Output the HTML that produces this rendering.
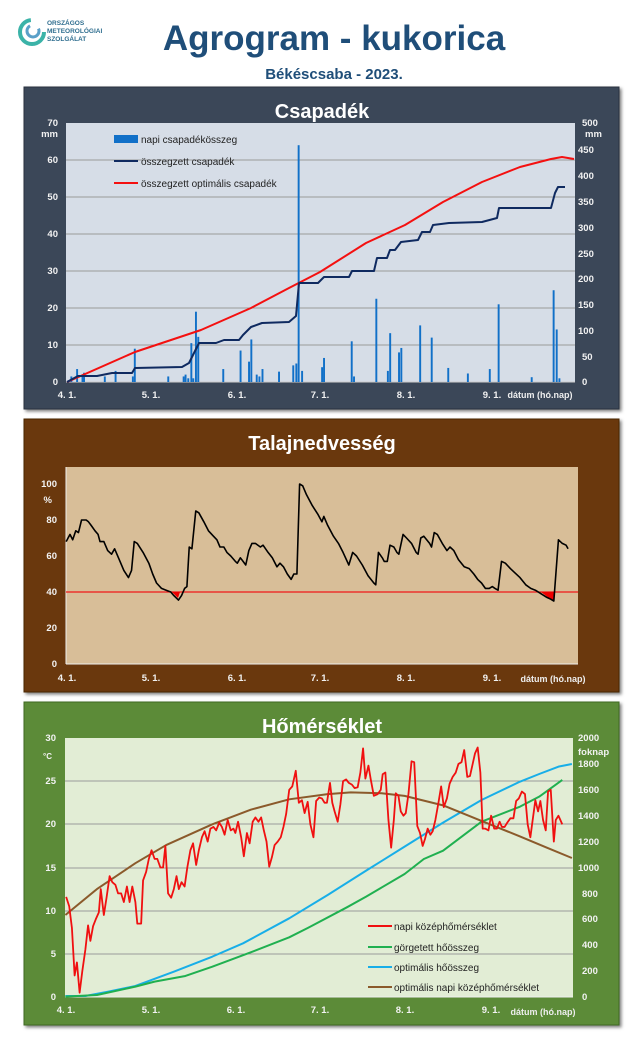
<!DOCTYPE html>
<html><head><meta charset="utf-8">
<style>
html,body{margin:0;padding:0;background:#fff;}
svg{display:block;font-family:"Liberation Sans",sans-serif;}
.ax{fill:#f2f2f2;font-size:9.5px;font-weight:bold;}
.g{stroke:#9a9a9a;stroke-width:1;}
.ln{fill:none;vector-effect:non-scaling-stroke;stroke-linejoin:round;}
</style></head><body>
<svg width="640" height="1048" viewBox="0 0 640 1048" xmlns="http://www.w3.org/2000/svg">
<defs>
<filter id="sh" x="-5%" y="-5%" width="110%" height="110%"><feDropShadow dx="2" dy="2" stdDeviation="1.5" flood-color="#000" flood-opacity="0.5"/></filter>
</defs>
<!-- header -->
<g>
<circle cx="32" cy="32" r="12" fill="none" stroke="#3bb3a8" stroke-width="4" stroke-dasharray="55 20"/>
<circle cx="33" cy="31" r="6" fill="none" stroke="#5aa0c8" stroke-width="3" stroke-dasharray="25 10"/>
<text x="47" y="25" font-size="6.5" fill="#2f6e8f" font-weight="bold">ORSZÁGOS</text>
<text x="47" y="33" font-size="6.5" fill="#2f6e8f" font-weight="bold">METEOROLÓGIAI</text>
<text x="47" y="41" font-size="6.5" fill="#2f6e8f" font-weight="bold">SZOLGÁLAT</text>
<text x="334" y="50" text-anchor="middle" font-size="35" font-weight="bold" fill="#1f4e79">Agrogram - kukorica</text>
<text x="334" y="79" text-anchor="middle" font-size="15" font-weight="bold" fill="#1f4e79">Békéscsaba - 2023.</text>
</g>

<!-- PANEL 1 -->
<rect x="24" y="87" width="595" height="322" fill="#3b4659" stroke="#2a3240" filter="url(#sh)"/>
<text x="322" y="118" text-anchor="middle" font-size="20" font-weight="bold" fill="#fff">Csapadék</text>
<rect x="66" y="123" width="509" height="259" fill="#d6dde7"/>
<g class="g">
<line x1="66" y1="160" x2="575" y2="160"/><line x1="66" y1="197" x2="575" y2="197"/><line x1="66" y1="234" x2="575" y2="234"/><line x1="66" y1="271" x2="575" y2="271"/><line x1="66" y1="308" x2="575" y2="308"/><line x1="66" y1="345" x2="575" y2="345"/>
</g>
<line x1="66" y1="382" x2="575" y2="382" stroke="#ccc"/>
<g class="ax" text-anchor="end">
<text x="58" y="126">70</text><text x="58" y="137">mm</text><text x="58" y="163">60</text><text x="58" y="200">50</text><text x="58" y="237">40</text><text x="58" y="274">30</text><text x="58" y="311">20</text><text x="58" y="348">10</text><text x="58" y="385">0</text>
</g>
<g class="ax" text-anchor="start">
<text x="582" y="126">500</text><text x="585" y="137">mm</text><text x="578" y="153">450</text><text x="578" y="179">400</text><text x="578" y="205">350</text><text x="578" y="231">300</text><text x="578" y="257">250</text><text x="578" y="282">200</text><text x="578" y="308">150</text><text x="578" y="334">100</text><text x="582" y="360">50</text><text x="582" y="385">0</text>
</g>
<g class="ax" text-anchor="middle">
<text x="67" y="398">4. 1.</text><text x="151" y="398">5. 1.</text><text x="237" y="398">6. 1.</text><text x="320" y="398">7. 1.</text><text x="406" y="398">8. 1.</text><text x="492" y="398">9. 1.</text>
</g>
<text x="540" y="398" text-anchor="middle" font-size="9" font-weight="bold" fill="#eee">dátum (hó.nap)</text>
<g transform="translate(20,382) scale(0.3846,-3.7)" fill="#1170c8">
<rect x="131" y="0" width="5" height="1.5"/><rect x="146" y="0" width="5" height="3.5"/><rect x="160" y="0" width="5" height="2"/><rect x="164" y="0" width="5" height="2.5"/><rect x="218" y="0" width="5" height="1.5"/><rect x="246" y="0" width="5" height="3"/><rect x="296" y="0" width="5" height="9"/><rect x="291" y="0" width="5" height="1.5"/><rect x="383" y="0" width="5" height="1.5"/><rect x="423" y="0" width="5" height="1.5"/><rect x="428" y="0" width="5" height="2"/><rect x="435" y="0" width="5" height="1"/><rect x="443" y="0" width="5" height="10.5"/><rect x="448" y="0" width="5" height="1"/><rect x="455" y="0" width="5" height="19"/><rect x="461" y="0" width="5" height="12.2"/><rect x="526" y="0" width="5" height="3.5"/><rect x="571" y="0" width="5" height="8.5"/><rect x="593" y="0" width="5" height="5.5"/><rect x="599" y="0" width="5" height="11.5"/><rect x="613" y="0" width="5" height="2"/><rect x="620" y="0" width="5" height="1.5"/><rect x="628" y="0" width="5" height="3.5"/><rect x="671" y="0" width="5" height="2.8"/><rect x="708" y="0" width="5" height="4.5"/><rect x="716" y="0" width="5" height="5"/><rect x="722" y="0" width="5" height="64"/><rect x="731" y="0" width="5" height="3"/><rect x="783" y="0" width="5" height="4"/><rect x="788" y="0" width="5" height="6.5"/><rect x="860" y="0" width="5" height="11"/><rect x="866" y="0" width="5" height="1.5"/><rect x="924" y="0" width="5" height="22.5"/><rect x="954" y="0" width="5" height="3"/><rect x="960" y="0" width="5" height="13.2"/><rect x="983" y="0" width="5" height="8"/><rect x="989" y="0" width="5" height="9.2"/><rect x="1038" y="0" width="5" height="15.3"/><rect x="1068" y="0" width="5" height="12"/><rect x="1111" y="0" width="5" height="3.8"/><rect x="1162" y="0" width="5" height="2.3"/><rect x="1219" y="0" width="5" height="3.5"/><rect x="1242" y="0" width="5" height="21"/><rect x="1328" y="0" width="5" height="1.3"/><rect x="1385" y="0" width="5" height="24.8"/><rect x="1393" y="0" width="5" height="14.2"/><rect x="1400" y="0" width="5" height="1"/>
</g>
<polyline class="ln" stroke="#f41010" stroke-width="2" points="67,382 135,352 201,330 251,308 289,288 320,272 366,243 405,225 443,202 482,182 520,167 551,159 562,157 574,159"/>
<polyline class="ln" stroke="#0f2a60" stroke-width="2" points="67,382 78,376 97,376 112,373 132,373 135,368 182,367 189,363 199,343 216,343 224,340 239,340 243,335 251,327 262,323 289,322 296,316 299,283 318,283 324,277 349,277 352,271 374,271 377,258 387,258 390,250 395,250 401,242 418,240 422,232 430,232 433,225 449,223 482,222 497,218 499,208 551,208 555,193 558,187 565,187"/>
<rect x="114" y="135" width="24" height="8" fill="#1170c8"/>
<line x1="114" y1="161" x2="138" y2="161" stroke="#0f2a60" stroke-width="2"/>
<line x1="114" y1="183" x2="138" y2="183" stroke="#f41010" stroke-width="2"/>
<g font-size="10" fill="#222">
<text x="141" y="143">napi csapadékösszeg</text><text x="141" y="165">összegzett csapadék</text><text x="141" y="187">összegzett optimális  csapadék</text>
</g>

<!-- PANEL 2 -->
<rect x="24" y="419" width="595" height="273" fill="#6b3907" stroke="#4a2804" filter="url(#sh)"/>
<text x="322" y="450" text-anchor="middle" font-size="20" font-weight="bold" fill="#fff">Talajnedvesség</text>
<rect x="66" y="467" width="512" height="197" fill="#d8be98"/>
<line x1="66" y1="664" x2="578" y2="664" stroke="#eee"/>
<line x1="66" y1="467" x2="66" y2="664" stroke="#eee"/>
<g class="ax" text-anchor="end">
<text x="57" y="487">100</text><text x="52" y="503">%</text><text x="57" y="523">80</text><text x="57" y="559">60</text><text x="57" y="595">40</text><text x="57" y="631">20</text><text x="57" y="667">0</text>
</g>
<g class="ax" text-anchor="middle">
<text x="67" y="681">4. 1.</text><text x="151" y="681">5. 1.</text><text x="237" y="681">6. 1.</text><text x="320" y="681">7. 1.</text><text x="406" y="681">8. 1.</text><text x="492" y="681">9. 1.</text>
</g>
<text x="553" y="682" text-anchor="middle" font-size="9" font-weight="bold" fill="#eee">dátum (hó.nap)</text>
<line x1="66" y1="592" x2="578" y2="592" stroke="#f01818" stroke-width="1.3"/>
<polygon points="172,592 180,592 178,598" fill="#e00"/>
<polygon points="541,592 555,592 553,601" fill="#e00"/>
<g transform="translate(20,664) scale(0.3846,-1.8)">
<polyline class="ln" stroke="#000" stroke-width="1.6" points="120,68 130,72 137,69 145,74 152,73 160,80 172,80 178,79 185,77 195,74 203,72 208,68 218,68 228,63 238,61 246,64 258,58 270,52 282,48 290,52 297,68 305,67 320,62 335,56 345,50 355,45 368,42 380,41 392,40 400,38 412,35.5 420,38 428,42 434,43 440,65 447,64 457,85 465,84 478,79 490,74 503,71 512,69 520,65 530,65 538,62 548,60 560,57 565,56 573,59 580,57 587,55 595,63 603,67 612,67 625,65 632,66 645,62 656,59 668,54 676,56 685,54 695,50 705,47 712,50 720,50 727,100 735,99 745,94 760,88 775,83 785,79 790,82 800,77 815,71 828,67 840,62 855,55 865,62 875,60 890,55 905,49 920,45 925,44 932,62 942,59 947,57 955,57 962,66 972,65 980,62 985,61 996,72 1005,70 1018,67 1030,62 1035,61 1042,70 1050,71 1065,67 1070,65 1077,73 1085,72 1098,67 1110,63 1118,65 1128,63 1140,58 1155,54 1168,53 1180,50 1190,47 1200,45 1210,42 1220,42 1228,43 1235,42 1243,41 1252,57 1262,56 1275,53 1285,51 1300,48 1315,44 1328,42 1340,41 1355,39 1370,37 1380,36 1388,35 1400,69 1410,67 1420,66 1425,64"/>
</g>

<!-- PANEL 3 -->
<rect x="24" y="702" width="595" height="323" fill="#5b8b38" stroke="#3f6a24" filter="url(#sh)"/>
<text x="322" y="733" text-anchor="middle" font-size="20" font-weight="bold" fill="#fff">Hőmérséklet</text>
<rect x="65" y="738" width="508" height="259" fill="#e2edd5"/>
<g class="g">
<line x1="65" y1="781" x2="573" y2="781"/><line x1="65" y1="824" x2="573" y2="824"/><line x1="65" y1="868" x2="573" y2="868"/><line x1="65" y1="911" x2="573" y2="911"/><line x1="65" y1="954" x2="573" y2="954"/>
</g>
<line x1="65" y1="997" x2="573" y2="997" stroke="#eee"/>
<g class="ax" text-anchor="end">
<text x="56" y="741">30</text><text x="52" y="759" font-size="8">°C</text><text x="56" y="784">25</text><text x="56" y="827">20</text><text x="56" y="871">15</text><text x="56" y="914">10</text><text x="56" y="957">5</text><text x="56" y="1000">0</text>
</g>
<g class="ax" text-anchor="start">
<text x="578" y="741">2000</text><text x="578" y="755">foknap</text><text x="578" y="767">1800</text><text x="578" y="793">1600</text><text x="578" y="819">1400</text><text x="578" y="845">1200</text><text x="578" y="871">1000</text><text x="582" y="897">800</text><text x="582" y="922">600</text><text x="582" y="948">400</text><text x="582" y="974">200</text><text x="582" y="1000">0</text>
</g>
<g class="ax" text-anchor="middle">
<text x="66" y="1013">4. 1.</text><text x="151" y="1013">5. 1.</text><text x="236" y="1013">6. 1.</text><text x="320" y="1013">7. 1.</text><text x="405" y="1013">8. 1.</text><text x="491" y="1013">9. 1.</text>
</g>
<text x="543" y="1015" text-anchor="middle" font-size="9" font-weight="bold" fill="#eee">dátum (hó.nap)</text>
<g transform="translate(20,700) scale(0.3846,0.3333)">
<polyline class="ln" stroke="#18aee8" stroke-width="2" points="118,888 170,888 230,875 300,858 400,815 500,770 580,730 700,655 800,585 900,512 1000,440 1100,368 1200,300 1300,245 1350,222 1400,200 1435,192"/>
<polyline class="ln" stroke="#20b050" stroke-width="2" points="118,890 200,885 300,860 350,845 430,828 500,800 600,757 700,712 750,683 850,622 900,590 1000,522 1050,477 1100,452 1200,365 1300,320 1350,290 1410,240"/>
</g>
<g transform="translate(20,997) scale(0.3846,-8.633)">
<polyline class="ln" stroke="#8b5a2b" stroke-width="2" points="118,9.5 200,12.5 300,15.5 380,17.6 500,20 600,21.7 700,22.9 800,23.5 860,23.7 940,23.6 1000,23.3 1100,22.2 1200,20.4 1300,18.6 1370,17.3 1435,16.1"/>
<polyline class="ln" stroke="#f01010" stroke-width="1.8" points="120,11.6 128,10.5 135,8 142,2.5 148,4 155,0.5 162,3 170,5.5 177,8.3 183,6.5 190,8.2 197,9 205,9.8 210,12.5 218,9.5 225,11.5 233,14 240,13.3 248,13 255,12 263,12 270,11 278,12.8 285,11 292,12.8 300,11 305,8.5 315,8.5 320,13.5 328,14.5 335,16 342,17 350,16 357,16 365,15 372,15 378,17.5 385,12 393,11.5 400,12.5 407,14 413,12.5 420,13.3 428,12.8 435,15 443,17 450,17.8 458,15.3 465,17 473,18.5 480,19.2 488,18 495,19.5 503,19.7 510,19.3 518,20.2 525,19.7 532,18.8 540,20.5 548,19.3 555,19.5 560,19 567,20.3 575,18.5 582,16.3 590,19 597,17.8 605,20.3 612,20.8 620,20.3 627,20.8 634,19.3 641,18 648,15.1 655,16.2 662,17.6 670,18 678,18.5 685,19.7 692,21.2 700,24 708,24.4 717,26.2 725,22.5 733,22.8 740,21.3 748,22.6 755,20 763,18.5 770,22.7 778,23.1 785,23 792,22.5 798,22.5 806,24.8 812,22.5 818,21.5 826,20.3 833,22.3 840,25 848,25.2 855,24.8 863,24.6 870,24.2 878,24.3 885,26 892,28.8 898,25.3 906,26.8 912,25.2 920,23.3 930,23.5 938,24 943,25.8 950,26 958,20.5 965,17.3 972,20.5 977,23.6 984,23.3 990,21.5 997,21 1003,21.3 1010,23.5 1018,27.3 1025,27.2 1033,19.8 1040,19 1047,17.5 1053,18.3 1060,19.5 1067,18.8 1073,19.2 1080,20.5 1088,22.5 1095,24.4 1102,22 1110,23 1117,24.7 1125,25.5 1133,26 1140,27 1148,27.2 1155,28.6 1163,25.5 1170,25.6 1177,27 1183,28.2 1190,28.9 1197,26 1203,19.5 1210,19.5 1218,19.3 1225,21 1233,19.5 1240,19.5 1247,20.3 1253,19.7 1260,19.7 1267,20.2 1275,20.7 1283,20.7 1290,22.7 1297,23 1305,23.8 1313,23.5 1320,20 1327,18.5 1333,20.5 1340,22.8 1347,21.5 1353,22.7 1360,20.5 1367,19.3 1373,23.8 1380,24 1388,18 1393,20.5 1400,21 1405,20.5 1410,20"/>
</g>
<line x1="368" y1="926" x2="392" y2="926" stroke="#f01010" stroke-width="2"/>
<line x1="368" y1="947" x2="392" y2="947" stroke="#20b050" stroke-width="2"/>
<line x1="368" y1="967" x2="392" y2="967" stroke="#18aee8" stroke-width="2"/>
<line x1="368" y1="987" x2="392" y2="987" stroke="#8b5a2b" stroke-width="2"/>
<g font-size="10" fill="#222">
<text x="394" y="930">napi középhőmérséklet</text><text x="394" y="951">görgetett hőösszeg</text><text x="394" y="971">optimális hőösszeg</text><text x="394" y="991">optimális napi középhőmérséklet</text>
</g>
</svg>
</body></html>
